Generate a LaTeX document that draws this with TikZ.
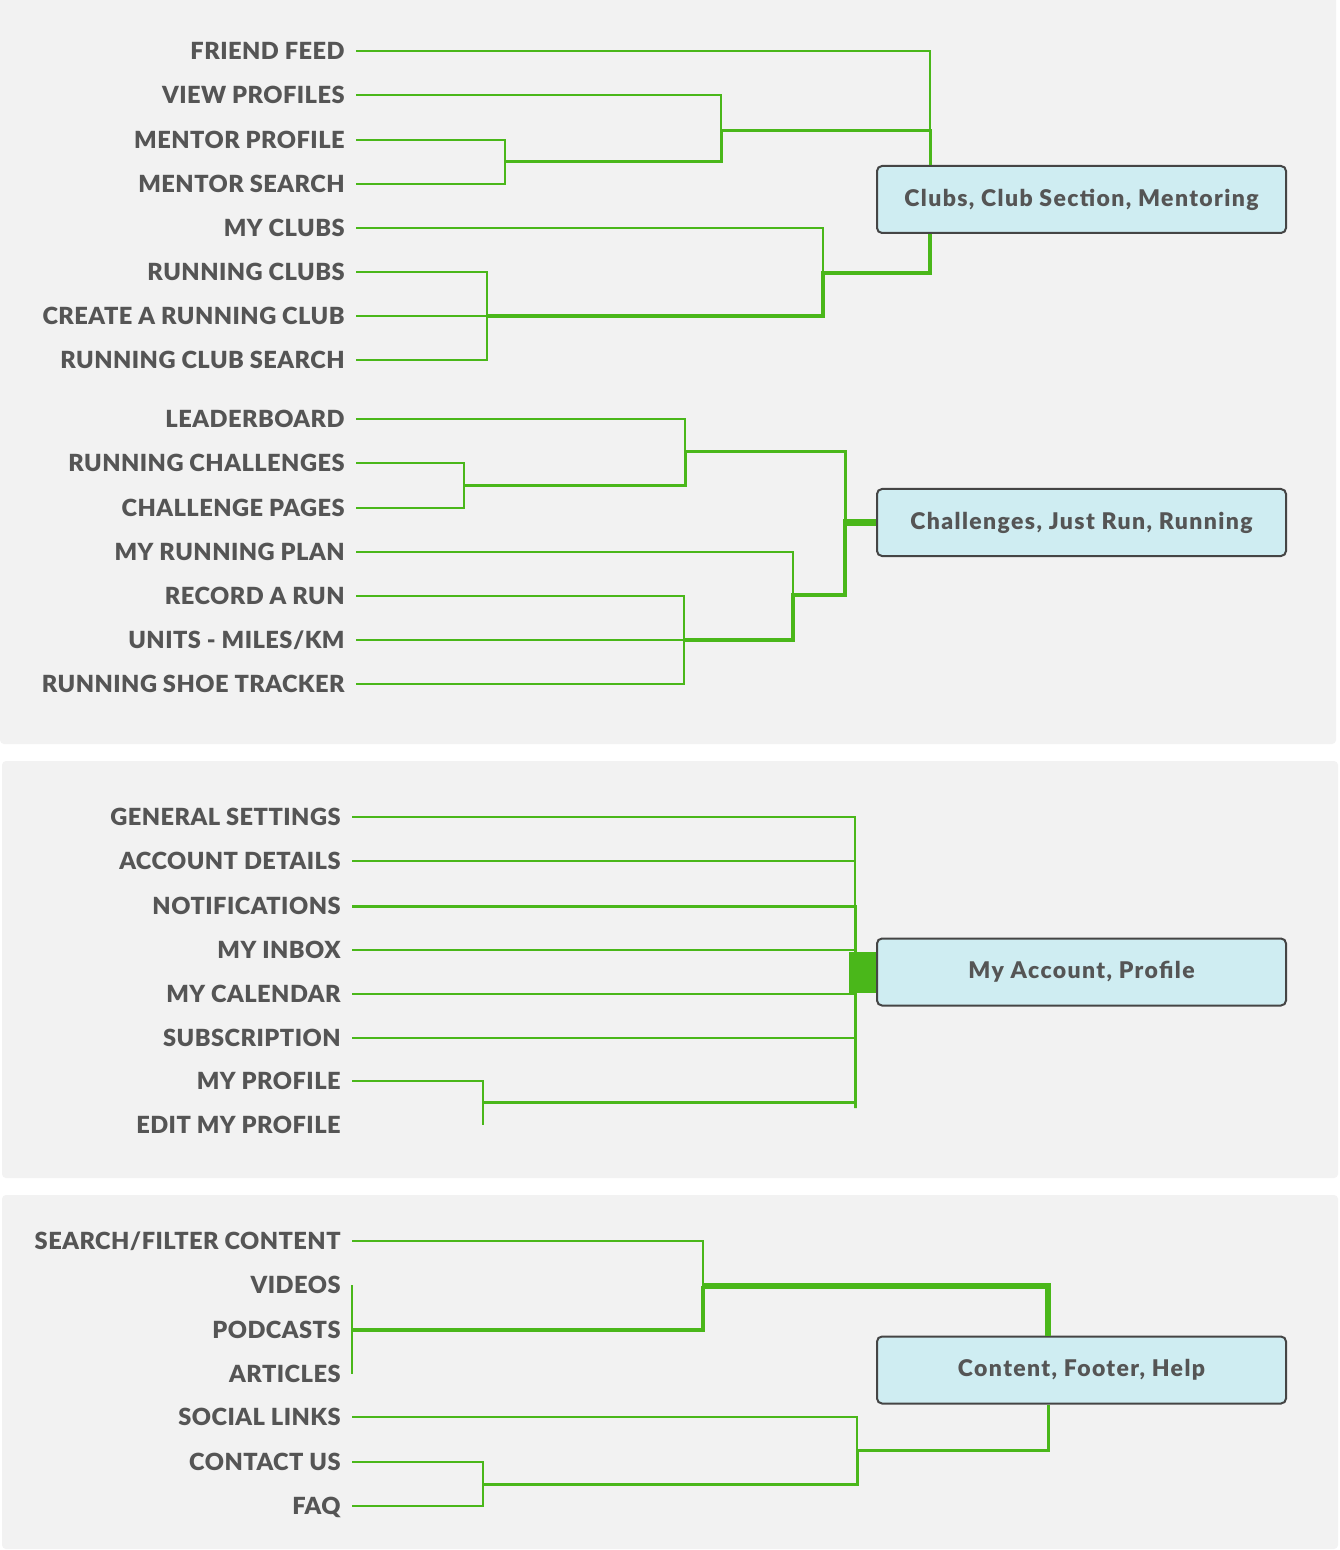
\documentclass[tikz,border=0pt]{standalone}
\usepackage{fontspec}
\usepackage{tikz}
\usetikzlibrary{calc,positioning}
\usepackage{xcolor}
\setmainfont{Lato}
\IfFontExistsTF{Lato Heavy}
  {\newfontfamily\lblfam{Lato Heavy}[LetterSpace=2]
   \newfontfamily\grpfam{Lato Heavy}[LetterSpace=6]}
  {\newfontfamily\lblfam{Lato}[LetterSpace=2,UprightFont=*-Bold]
   \newfontfamily\grpfam{Lato}[LetterSpace=6,UprightFont=*-Bold]}
\definecolor{panelgray}{HTML}{F2F2F2}
\definecolor{treegreen}{HTML}{4AB71A}
\definecolor{boxfill}{HTML}{CFEDF2}
\definecolor{boxline}{HTML}{454545}
\definecolor{labeltext}{HTML}{555555}

\begin{document}
\begin{tikzpicture}[
      x=0.5pt, y=-0.5pt,
      panel/.style={fill=panelgray, rounded corners=2pt},
      lbl/.style={anchor=east, text=labeltext, inner xsep=5.5pt, inner ysep=0pt,
        text height=8.6pt, text depth=0pt,
        font=\lblfam\bfseries\fontsize{11.8}{14}\selectfont},
      group/.style={draw=boxline, fill=boxfill, line width=1pt, rounded corners=2.5pt,
        minimum width=204.5pt, minimum height=33.5pt, text=labeltext,
        font=\grpfam\bfseries\fontsize{11.5}{13}\selectfont},
      link/.style={draw=treegreen, line width=1pt},
      trunk/.style={draw=treegreen, line width=1.5pt},
      trunkb/.style={draw=treegreen, line width=2.2pt},
      trunkc/.style={draw=treegreen, line width=3pt}
    ]
      \useasboundingbox (0,0) rectangle (1339,1550);
      \fill[white] (0,0) rectangle (1339,1550);
      % panels
      \fill[panel] (0,-10) rectangle (1336,744);
      \fill[panel] (2,761) rectangle (1338,1178);
      \fill[panel] (2,1195) rectangle (1338,1549);

      % clubs
      \node[lbl] (ff)  at (356,51)  {FRIEND FEED};
      \node[lbl] (vp)  at (356,95)  {VIEW PROFILES};
      \node[lbl] (mp)  at (356,140) {MENTOR PROFILE};
      \node[lbl] (ms)  at (356,184) {MENTOR SEARCH};
      \node[lbl] (mc)  at (356,228) {MY CLUBS};
      \node[lbl] (rc)  at (356,272) {RUNNING CLUBS};
      \node[lbl] (cr)  at (356,316) {CREATE A RUNNING CLUB};
      \node[lbl] (rcs) at (356,360) {RUNNING CLUB SEARCH};
      \node[group] (g1) at (1081.5,199.5) {Clubs, Club Section, Mentoring};

      \coordinate (mj)  at (505,162);
      \coordinate (vj)  at (721,131);
      \coordinate (tj)  at (930,131);
      \coordinate (rj)  at (487,316);
      \coordinate (mcj) at (823,273);
      \draw[link] (mp.east) -| (mj) |- (ms.east);
      \draw[link] (vp.east) -| (vj);
      \draw[link] (ff.east) -| (tj);
      \draw[trunk] (mj) -| (vj) -- (tj) -- (tj |- g1.north);
      \draw[link] (rc.east) -| (rj) |- (rcs.east);
      \draw[link] (cr.east) -- (rj);
      \draw[link] (mc.east) -| (mcj);
      \draw[trunkb] (rj) -| (mcj) -- (mcj -| tj) -- (tj |- g1.south);

      % challenges
      \node[lbl] (lb)  at (356,419) {LEADERBOARD};
      \node[lbl] (rch) at (356,463) {RUNNING CHALLENGES};
      \node[lbl] (cp)  at (356,508) {CHALLENGE PAGES};
      \node[lbl] (mrp) at (356,552) {MY RUNNING PLAN};
      \node[lbl] (rr)  at (356,596) {RECORD A RUN};
      \node[lbl] (um)  at (356,640) {UNITS - MILES/KM};
      \node[lbl] (st)  at (356,684) {RUNNING SHOE TRACKER};
      \node[group] (g2) at (1081.5,522.5) {Challenges, Just Run, Running};

      \coordinate (cpj) at (464,486);
      \coordinate (lbj) at (685,452);
      \coordinate (c2j) at (845,522.5);
      \coordinate (raj) at (684,640);
      \coordinate (mpj) at (793,595);
      \draw[link] (rch.east) -| (cpj) |- (cp.east);
      \draw[link] (lb.east) -| (lbj);
      \draw[trunk] (cpj) -| (lbj) -| (c2j);
      \draw[link] (rr.east) -| (raj) |- (st.east);
      \draw[link] (um.east) -- (raj);
      \draw[link] (mrp.east) -| (mpj);
      \draw[trunkb] (raj) -| (mpj) -| (c2j);
      \draw[treegreen, line width=3.5pt] ([xshift=-1pt]c2j) -- (g2.west);

      % account
      \node[lbl] (gs)  at (352,817)  {GENERAL SETTINGS};
      \node[lbl] (ad)  at (352,861)  {ACCOUNT DETAILS};
      \node[lbl] (nt)  at (352,906)  {NOTIFICATIONS};
      \node[lbl] (mi)  at (352,950)  {MY INBOX};
      \node[lbl] (mca) at (352,994)  {MY CALENDAR};
      \node[lbl] (sub) at (352,1038) {SUBSCRIPTION\hspace{3pt}};
      \node[lbl] (mpr) at (352,1081) {MY PROFILE};
      \node[lbl] (emp) at (352,1125) {EDIT MY PROFILE};
      \node[group] (g3) at (1081.5,972) {My Account, Profile};

      \coordinate (aj) at (855,972);
      \coordinate (pj) at (483,1102);
      \draw[link] (gs.east) -| (aj);
      \draw[link] (ad.east) -| (aj);
      \draw[trunk] (nt.east) -| (aj);
      \draw[link] (mi.east) -| (aj);
      \draw[link] (mca.east) -| (aj);
      \draw[link] (sub.east) -| (aj);
      \draw[link] (mpr.east) -| (pj) -- (pj |- emp.east);
      \draw[trunk] (pj) -| ([yshift=-3pt]aj |- pj) -- (aj);
      \draw[treegreen, line width=20.5pt] ([xshift=-3pt]aj) -- (g3.west);

      % content
      \node[lbl] (sf)  at (352,1241) {SEARCH/FILTER CONTENT};
      \node[lbl] (vid) at (352,1285) {VIDEOS};
      \node[lbl] (pod) at (352,1330) {PODCASTS};
      \node[lbl] (art) at (352,1374) {ARTICLES};
      \node[lbl] (sl)  at (352,1417) {SOCIAL LINKS};
      \node[lbl] (cu)  at (352,1462) {CONTACT US\hspace{3pt}};
      \node[lbl] (faq) at (352,1506) {FAQ};
      \node[group] (g4) at (1081.5,1370) {Content, Footer, Help};

      \coordinate (sfj) at (703,1286);
      \coordinate (c4j) at (1048,1370);
      \coordinate (cuj) at (483,1484);
      \coordinate (slj) at (857,1450);
      \draw[link] (vid.east) -- (art.east);
      \draw[link] (sf.east) -| (sfj);
      \draw[trunkb] (pod.east) -| (sfj);
      \draw[trunkc] (sfj) -| (c4j |- g4.north);
      \draw[link] (cu.east) -| (cuj) |- (faq.east);
      \draw[link] (sl.east) -| (slj);
      \draw[trunk] (cuj) -| (slj) -| (c4j |- g4.south);
    \end{tikzpicture}
\end{document}
